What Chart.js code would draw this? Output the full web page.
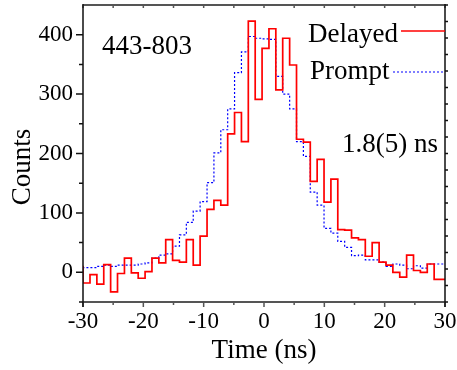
<!DOCTYPE html>
<html>
<head>
<meta charset="utf-8">
<script src="https://cdn.jsdelivr.net/npm/chart.js@4.4.1/dist/chart.umd.min.js"></script>
<style>
  html, body { margin: 0; padding: 0; background: #fff; }
  #wrap { width: 457px; height: 370px; }
</style>
</head>
<body>
<div id="wrap"><canvas id="chart" width="457" height="370"></canvas></div>
<script>
// DATA
// left edge of each time bin (ns); the last bin ends at 30
const binStart = [
  -30, -28.84, -27.70, -26.56, -25.42, -24.28, -23.13, -21.99, -20.85, -19.71,
  -18.57, -17.43, -16.29, -15.15, -14.01, -12.87, -11.73, -10.59, -9.44, -8.30,
  -7.16, -6.02, -4.88, -3.74, -2.60, -1.46, -0.32, 0.82, 1.96, 3.10,
  4.25, 5.39, 6.53, 7.67, 8.81, 9.95, 11.09, 12.23, 13.37, 14.51,
  15.65, 16.79, 17.93, 19.08, 20.22, 21.36, 22.50, 23.64, 24.78, 25.92,
  27.06, 28.20, 29.34
];
const binEnd = 30;

const delayed = [
  11, -18, -4, -20, 13, -33, -2, 24, -1, -10,
  1, 24, 16, 55, 20, 17, 55, 12, 61, 106,
  121, 113, 233, 269, 220, 423, 291, 377, 410, 307,
  394, 349, 224, 219, 153, 190, 118, 157, 72, 71,
  58, 55, 27, 50, 17, 12, 0, -8, 29, 3,
  0, 14, -12
];

const prompt = [
  7, 8, 8, 10, 12, 10, 12, 12, 12, 14,
  16, 24, 29, 31, 44, 63, 84, 103, 119, 151,
  201, 240, 275, 336, 371, 397, 394, 393, 392, 330,
  300, 275, 220, 195, 135, 113, 74, 66, 52, 42,
  28, 29, 21, 21, 17, 10, 14, 12, 6, 11,
  7, 14, 14
];

const xTicks = [-30, -20, -10, 0, 10, 20, 30];
const xMinor = [-25, -15, -5, 5, 15, 25];
const yTicks = [0, 100, 200, 300, 400];
const yMinor = [-50, 50, 150, 250, 350];

const panelLabel = '443-803';
const lifetimeLabel = '1.8(5) ns';
const xTitle = 'Time (ns)';
const yTitle = 'Counts';

// STYLE
const SERIF = "'Liberation Serif', 'Times New Roman', serif";
const RED = '#ff0000';
const BLUE = '#0000ff';

function toSteps(vals) {
  const pts = binStart.map((x, i) => ({ x, y: vals[i] }));
  pts.push({ x: binEnd, y: vals[vals.length - 1] });
  return pts;
}

// frame, ticks, annotations
const decor = {
  id: 'decor',
  afterDraw(chart) {
    const { ctx, chartArea: a, scales: { x, y } } = chart;
    ctx.save();

    // bottom + top axis (grey)
    ctx.strokeStyle = '#555';
    ctx.lineWidth = 2;
    ctx.beginPath();
    ctx.moveTo(a.left, a.bottom); ctx.lineTo(a.right, a.bottom);
    ctx.moveTo(a.left, a.top); ctx.lineTo(a.right, a.top);
    ctx.stroke();

    ctx.lineWidth = 1.5;
    ctx.beginPath();
    xTicks.forEach(v => { const px = x.getPixelForValue(v); ctx.moveTo(px, a.bottom); ctx.lineTo(px, a.bottom + 5); });
    xMinor.forEach(v => { const px = x.getPixelForValue(v); ctx.moveTo(px, a.bottom); ctx.lineTo(px, a.bottom + 3); });
    xTicks.concat(xMinor).forEach(v => { const px = x.getPixelForValue(v); ctx.moveTo(px, a.top); ctx.lineTo(px, a.top + 3); });
    ctx.stroke();

    // left + right axis (black)
    ctx.strokeStyle = '#111';
    ctx.lineWidth = 1.5;
    ctx.beginPath();
    ctx.moveTo(a.left, a.top - 1); ctx.lineTo(a.left, a.bottom + 5);
    ctx.moveTo(a.right, a.top - 1); ctx.lineTo(a.right, a.bottom + 5);
    yTicks.forEach(v => { const py = y.getPixelForValue(v); ctx.moveTo(a.left, py); ctx.lineTo(a.left - 7, py); });
    yMinor.forEach(v => { const py = y.getPixelForValue(v); ctx.moveTo(a.left, py); ctx.lineTo(a.left - 4, py); });
    for (let i = 0; i <= 18; i++) {
      const py = a.bottom - (a.bottom - a.top) * i / 18;
      ctx.moveTo(a.right, py); ctx.lineTo(a.right + 3, py);
    }
    ctx.stroke();

    // texts
    ctx.fillStyle = '#000';
    ctx.font = '27px ' + SERIF;
    ctx.textBaseline = 'alphabetic';
    ctx.textAlign = 'left';
    ctx.fillText(panelLabel, a.left + 19, 54);
    ctx.fillText('Delayed', 308, 42);
    ctx.fillText('Prompt', 310, 79);
    ctx.fillText(lifetimeLabel, 342, 152);

    ctx.textAlign = 'center';
    ctx.fillText(xTitle, (a.left + a.right) / 2, 358);

    ctx.save();
    ctx.translate(30, 167);
    ctx.rotate(-Math.PI / 2);
    ctx.fillText(yTitle, 0, 0);
    ctx.restore();

    // legend samples
    ctx.lineWidth = 1.5;
    ctx.strokeStyle = RED;
    ctx.beginPath();
    ctx.moveTo(401, 31); ctx.lineTo(a.right, 31);
    ctx.stroke();
    ctx.strokeStyle = BLUE;
    ctx.lineWidth = 1.2;
    ctx.setLineDash([2, 2]);
    ctx.beginPath();
    ctx.moveTo(393, 72); ctx.lineTo(a.right, 72);
    ctx.stroke();

    ctx.restore();
  }
};

const tickFont = { family: SERIF, size: 23 };

new Chart(document.getElementById('chart').getContext('2d'), {
  type: 'line',
  data: {
    datasets: [
      { label: 'Delayed', data: toSteps(delayed), stepped: 'after', borderColor: RED, borderWidth: 1.7, pointRadius: 0, fill: false },
      { label: 'Prompt', data: toSteps(prompt), stepped: 'after', borderColor: BLUE, borderWidth: 1.2, borderDash: [2, 2], pointRadius: 0, fill: false }
    ]
  },
  options: {
    responsive: false,
    animation: false,
    devicePixelRatio: 1,
    layout: { padding: { top: 5, right: 12, left: 0, bottom: 0 } },
    plugins: { legend: { display: false }, tooltip: { enabled: false } },
    scales: {
      x: {
        type: 'linear', min: -30, max: 30,
        afterBuildTicks: s => { s.ticks = xTicks.map(v => ({ value: v })); },
        afterFit: s => { s.height = 68; s.paddingLeft = 0; s.paddingRight = 0; },
        grid: { display: false, drawTicks: false },
        border: { display: false },
        ticks: { font: tickFont, color: '#000', padding: 6, maxRotation: 0, autoSkip: false }
      },
      y: {
        type: 'linear', min: -50, max: 450,
        afterBuildTicks: s => { s.ticks = yTicks.map(v => ({ value: v })); },
        afterFit: s => { s.width = 83; s.paddingTop = 0; s.paddingBottom = 0; },
        grid: { display: false, drawTicks: false },
        border: { display: false },
        ticks: { font: tickFont, color: '#000', padding: 10 }
      }
    }
  },
  plugins: [decor]
});
</script>
</body>
</html>
